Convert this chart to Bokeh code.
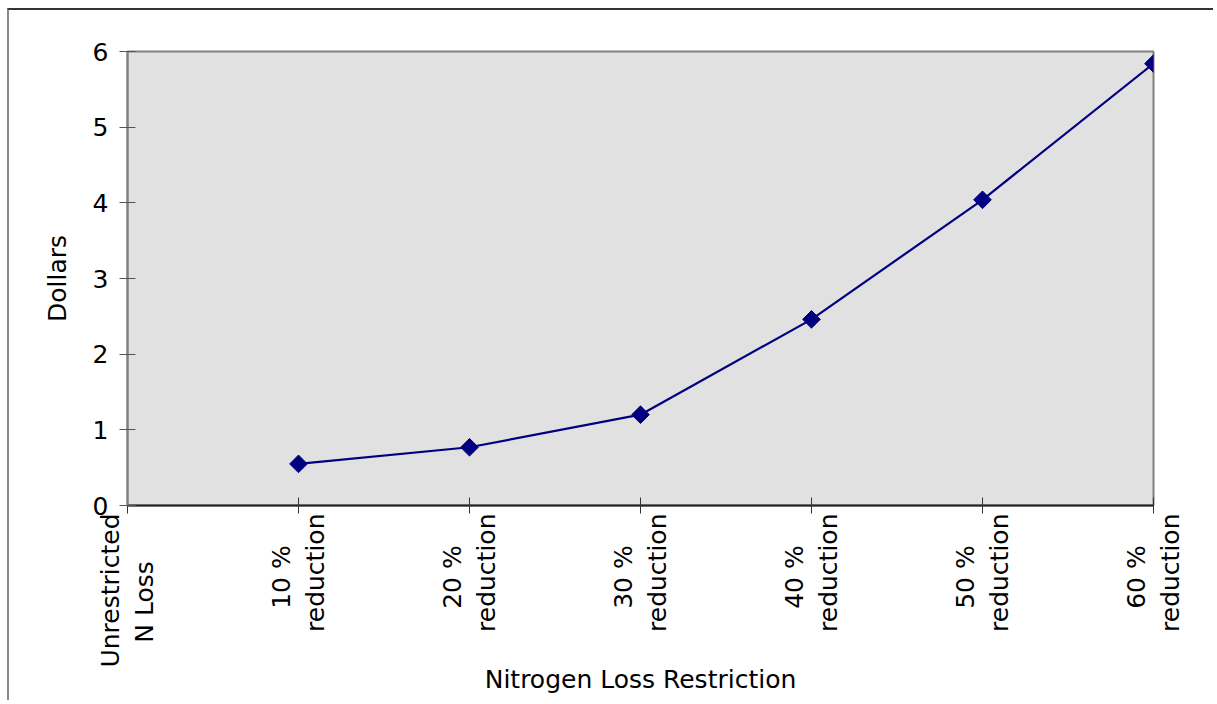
import math
from bokeh.plotting import figure
from bokeh.models import FixedTicker, Range1d
from bokeh.embed import file_html
from bokeh.resources import INLINE

# category labels, as (first line, second line)
categories = [("Unrestricted", "N Loss"), ("10 %", "reduction"), ("20 %", "reduction"),
              ("30 %", "reduction"), ("40 %", "reduction"), ("50 %", "reduction"),
              ("60 %", "reduction")]
series_categories = categories[1:]
dollars = [0.55, 0.77, 1.20, 2.46, 4.04, 5.84]
y_ticks = [0, 1, 2, 3, 4, 5, 6]

FONT = "DejaVu Sans"
FS = "25px"
NB = "\u00a0"


def two_line(lines):
    # Bokeh right-aligns multi-line rotated labels; pad the shorter line so
    # the two lines appear centred on each other, as in the original chart.
    a, b = lines
    if len(a) > len(b):
        return a + "\n" + b + NB * 6
    return a + NB * 4 + "\n" + b


p = figure(width=1206, height=692, output_backend="svg", toolbar_location=None,
           x_range=Range1d(0, len(categories) - 1), y_range=Range1d(0, 6),
           min_border_left=118, min_border_right=62, min_border_top=41,
           min_border_bottom=197)

xs = [categories.index(c) for c in series_categories]
p.line(xs, dollars, line_color="#000080", line_width=2.2)
p.scatter(xs, dollars, marker="square", angle=math.pi / 4, size=12.5,
          fill_color="#000080", line_color="#000080")

p.background_fill_color = "#e1e1e1"
p.border_fill_color = "white"
p.outline_line_color = "#808080"
p.outline_line_width = 2
p.grid.visible = False

p.xaxis.ticker = FixedTicker(ticks=list(range(len(categories))))
p.xaxis.major_label_overrides = {i: two_line(c) for i, c in enumerate(categories)}
p.xaxis.major_label_orientation = math.pi / 2
p.xaxis.axis_label = "Nitrogen Loss Restriction"
p.yaxis.ticker = FixedTicker(ticks=y_ticks)
p.yaxis.axis_label = "Dollars"

for ax in (p.xaxis[0], p.yaxis[0]):
    ax.major_tick_in = 8
    ax.major_tick_out = 8
    ax.minor_tick_in = 0
    ax.minor_tick_out = 0
    ax.major_label_text_font = FONT
    ax.major_label_text_font_size = FS
    ax.major_label_text_color = "black"
    ax.axis_label_text_font = FONT
    ax.axis_label_text_font_size = FS
    ax.axis_label_text_font_style = "normal"
    ax.axis_label_text_color = "black"

p.xaxis.axis_line_color = "#222222"
p.xaxis.axis_line_width = 2
p.xaxis.major_tick_line_color = "#333333"
p.xaxis.major_label_standoff = 0
p.xaxis.axis_label_standoff = -6
p.yaxis.axis_line_color = "#808080"
p.yaxis.axis_line_width = 2
p.yaxis.major_tick_line_color = "#555555"
p.yaxis.major_label_standoff = 11
p.yaxis.axis_label_standoff = 18

p.styles = {"margin-left": "7px", "margin-top": "8px",
            "border-top": "2px solid #333333", "border-left": "2px solid #888888"}

open("out.html", "w").write(file_html(p, INLINE))
